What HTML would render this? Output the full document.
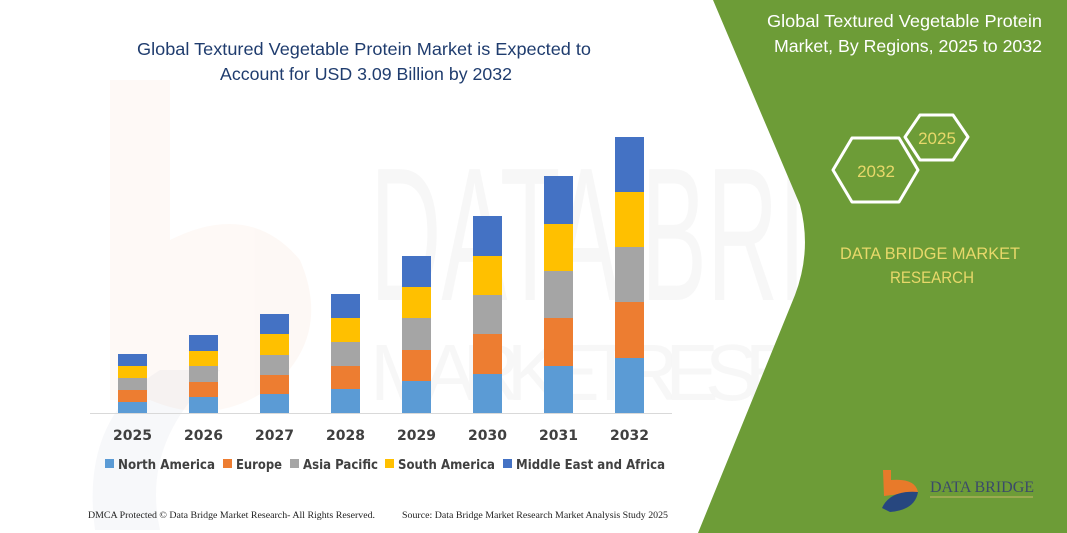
<!DOCTYPE html>
<html><head><meta charset="utf-8"><style>
body{margin:0;width:1067px;height:533px;overflow:hidden;background:#fff;font-family:"Liberation Sans",sans-serif;}
</style></head><body>
<svg width="1067" height="533" viewBox="0 0 1067 533" xmlns="http://www.w3.org/2000/svg" style="position:absolute;left:0;top:0">
<!-- watermark -->
<g opacity="0.045">
<path d="M110 80 L170 80 L170 240 Q250 200 300 260 Q330 330 280 380 Q220 430 150 400 L110 400 Z" fill="#e87a2a"/>
<text x="370" y="300" font-size="190" fill="#555" font-family="Liberation Sans" textLength="650" lengthAdjust="spacingAndGlyphs">DATA BRIDGE</text>
<text x="370" y="400" font-size="80" fill="#555" font-family="Liberation Sans" textLength="600" lengthAdjust="spacing">MARKETRESEARCH</text>
</g>
<path d="M95 530 Q80 420 160 370 L220 370 Q140 440 160 530 Z" fill="#2a4a8a" opacity="0.04"/>
<!-- green panel -->
<path d="M713 0 L1067 0 L1067 533 L698 533 L795 295 Q812 250 800 205 Z" fill="#6d9c37"/>
<!-- left title -->
<text x="137" y="55" font-size="17.5" fill="#1f3c6e" textLength="454" lengthAdjust="spacingAndGlyphs">Global Textured Vegetable Protein Market is Expected to</text>
<text x="220" y="80" font-size="17.5" fill="#1f3c6e" textLength="292" lengthAdjust="spacingAndGlyphs">Account for USD 3.09 Billion by 2032</text>
<!-- right title -->
<text x="767" y="27" font-size="17.5" fill="#fff" textLength="275" lengthAdjust="spacingAndGlyphs">Global Textured Vegetable Protein</text>
<text x="774" y="52" font-size="17.5" fill="#fff" textLength="268" lengthAdjust="spacingAndGlyphs">Market, By Regions, 2025 to 2032</text>
<!-- hexagons -->
<polygon points="905,137 920,115 953,115 968,137 953,160 920,160" fill="none" stroke="#fff" stroke-width="3" stroke-linejoin="round"/>
<text x="937" y="144" font-size="17" fill="#e8d86a" text-anchor="middle">2025</text>
<polygon points="833,170 852,138 899,138 918,170 899,202 852,202" fill="none" stroke="#fff" stroke-width="3" stroke-linejoin="round"/>
<text x="876" y="177" font-size="17" fill="#e8d86a" text-anchor="middle">2032</text>
<text x="840" y="259" font-size="17" fill="#e8d86a" textLength="180" lengthAdjust="spacingAndGlyphs">DATA BRIDGE MARKET</text>
<text x="890" y="283" font-size="17" fill="#e8d86a" textLength="84" lengthAdjust="spacingAndGlyphs">RESEARCH</text>
<!-- logo -->
<path d="M883 470 L891 470 L891 480 Q915 478 918 492 L884 496 Z" fill="#e87a2a"/>
<path d="M882 508 Q890 490 918 492 Q915 510 890 512 Z" fill="#27477f"/>
<text x="930" y="492" font-size="16" fill="#3b4a6a" font-family="Liberation Serif">DATA BRIDGE</text>
<line x1="930" y1="497" x2="1033" y2="497" stroke="#c8b86a" stroke-width="1"/>
<!-- axis -->
<line x1="90" y1="413.5" x2="672" y2="413.5" stroke="#d9d9d9" stroke-width="1"/>
<!-- bars -->
<g>
<rect x="118" y="402" width="29" height="11" fill="#5b9bd5"/><rect x="118" y="390" width="29" height="12" fill="#ed7d31"/><rect x="118" y="378" width="29" height="12" fill="#a5a5a5"/><rect x="118" y="366" width="29" height="12" fill="#ffc000"/><rect x="118" y="354" width="29" height="12" fill="#4472c4"/>
<rect x="189" y="397" width="29" height="16" fill="#5b9bd5"/><rect x="189" y="382" width="29" height="15" fill="#ed7d31"/><rect x="189" y="366" width="29" height="16" fill="#a5a5a5"/><rect x="189" y="351" width="29" height="15" fill="#ffc000"/><rect x="189" y="335" width="29" height="16" fill="#4472c4"/>
<rect x="260" y="394" width="29" height="19" fill="#5b9bd5"/><rect x="260" y="375" width="29" height="19" fill="#ed7d31"/><rect x="260" y="355" width="29" height="20" fill="#a5a5a5"/><rect x="260" y="334" width="29" height="21" fill="#ffc000"/><rect x="260" y="314" width="29" height="20" fill="#4472c4"/>
<rect x="331" y="389" width="29" height="24" fill="#5b9bd5"/><rect x="331" y="366" width="29" height="23" fill="#ed7d31"/><rect x="331" y="342" width="29" height="24" fill="#a5a5a5"/><rect x="331" y="318" width="29" height="24" fill="#ffc000"/><rect x="331" y="294" width="29" height="24" fill="#4472c4"/>
<rect x="402" y="381" width="29" height="32" fill="#5b9bd5"/><rect x="402" y="350" width="29" height="31" fill="#ed7d31"/><rect x="402" y="318" width="29" height="32" fill="#a5a5a5"/><rect x="402" y="287" width="29" height="31" fill="#ffc000"/><rect x="402" y="256" width="29" height="31" fill="#4472c4"/>
<rect x="473" y="374" width="29" height="39" fill="#5b9bd5"/><rect x="473" y="334" width="29" height="40" fill="#ed7d31"/><rect x="473" y="295" width="29" height="39" fill="#a5a5a5"/><rect x="473" y="256" width="29" height="39" fill="#ffc000"/><rect x="473" y="216" width="29" height="40" fill="#4472c4"/>
<rect x="544" y="366" width="29" height="47" fill="#5b9bd5"/><rect x="544" y="318" width="29" height="48" fill="#ed7d31"/><rect x="544" y="271" width="29" height="47" fill="#a5a5a5"/><rect x="544" y="224" width="29" height="47" fill="#ffc000"/><rect x="544" y="176" width="29" height="48" fill="#4472c4"/>
<rect x="615" y="358" width="29" height="55" fill="#5b9bd5"/><rect x="615" y="302" width="29" height="56" fill="#ed7d31"/><rect x="615" y="247" width="29" height="55" fill="#a5a5a5"/><rect x="615" y="192" width="29" height="55" fill="#ffc000"/><rect x="615" y="137" width="29" height="55" fill="#4472c4"/>
</g>
<g font-size="14" font-weight="bold" fill="#404040" text-anchor="middle" font-family="DejaVu Sans">
<text x="132.5" y="440">2025</text><text x="203.5" y="440">2026</text><text x="274.5" y="440">2027</text><text x="345.5" y="440">2028</text><text x="416.5" y="440">2029</text><text x="487.5" y="440">2030</text><text x="558.5" y="440">2031</text><text x="629.5" y="440">2032</text>
</g>
<g font-size="13.5" font-weight="bold" fill="#404040" font-family="DejaVu Sans" lengthAdjust="spacingAndGlyphs">
<rect x="105" y="459" width="9" height="9" fill="#5b9bd5"/><text x="118" y="469" textLength="97" lengthAdjust="spacingAndGlyphs">North America</text>
<rect x="223" y="459" width="9" height="9" fill="#ed7d31"/><text x="236" y="469" textLength="46" lengthAdjust="spacingAndGlyphs">Europe</text>
<rect x="290" y="459" width="9" height="9" fill="#a5a5a5"/><text x="303" y="469" textLength="75" lengthAdjust="spacingAndGlyphs">Asia Pacific</text>
<rect x="385" y="459" width="9" height="9" fill="#ffc000"/><text x="398" y="469" textLength="97" lengthAdjust="spacingAndGlyphs">South America</text>
<rect x="503" y="459" width="9" height="9" fill="#4472c4"/><text x="516" y="469" textLength="149" lengthAdjust="spacingAndGlyphs">Middle East and Africa</text>
</g>
<text x="88" y="518" font-size="9.5" fill="#222" font-family="Liberation Serif" textLength="287" lengthAdjust="spacingAndGlyphs">DMCA Protected © Data Bridge Market Research-  All Rights Reserved.</text>
<text x="402" y="518" font-size="9.5" fill="#222" font-family="Liberation Serif" textLength="266" lengthAdjust="spacingAndGlyphs">Source:  Data Bridge Market Research  Market Analysis Study 2025</text>
</svg>
</body></html>
